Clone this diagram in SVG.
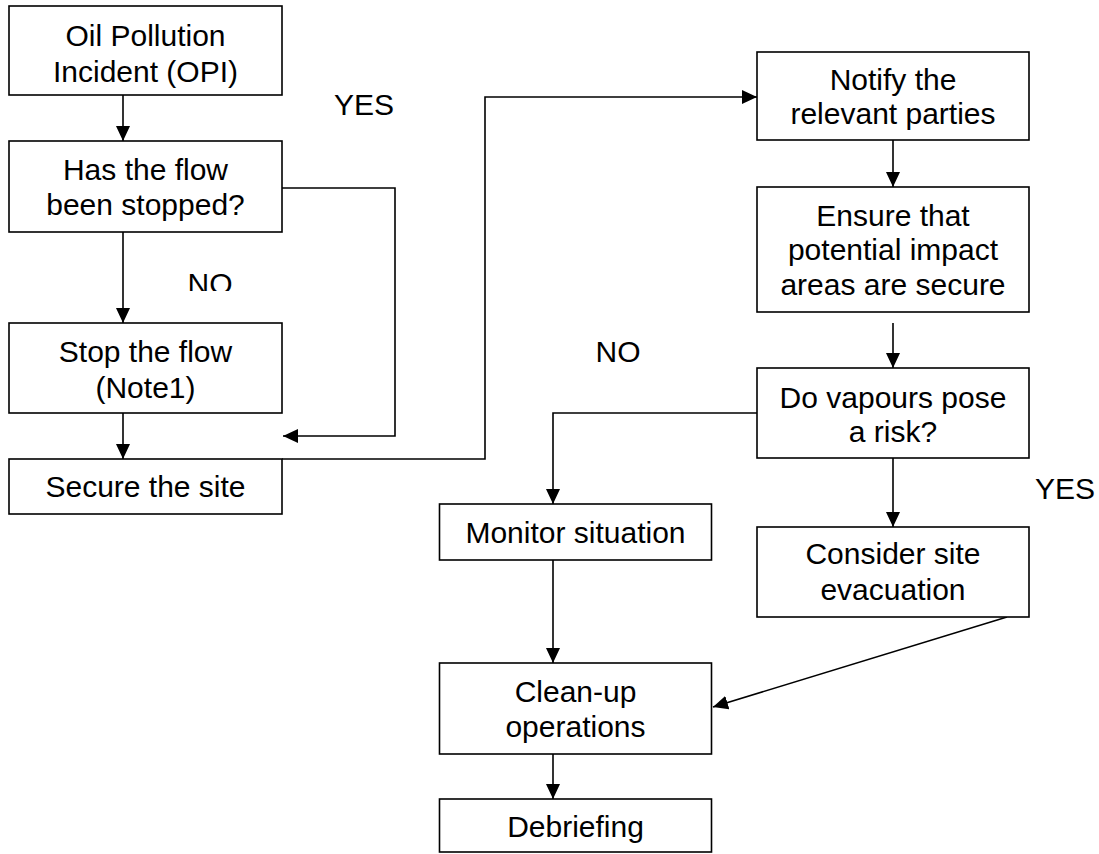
<svg xmlns="http://www.w3.org/2000/svg" width="1099" height="854" viewBox="0 0 1099 854">
<style>
.box{fill:#fff;stroke:#000;stroke-width:1.6}
.t{font-family:"Liberation Sans",Arial,sans-serif;font-size:30px;fill:#000;text-anchor:middle}
.c{fill:none;stroke:#000;stroke-width:1.6}
</style>
<defs>
<marker id="ah" markerUnits="userSpaceOnUse" markerWidth="16" markerHeight="14" refX="15" refY="7" orient="auto">
<path d="M0,0 L15,7 L0,14 z" fill="#000"/>
</marker>
<clipPath id="noclip"><rect x="150" y="260" width="120" height="31"/></clipPath>
</defs>
<rect width="1099" height="854" fill="#fff"/>
<g id="connectors">
<line class="c" x1="123" y1="95" x2="123" y2="141" marker-end="url(#ah)"/>
<line class="c" x1="123" y1="232" x2="123" y2="323" marker-end="url(#ah)"/>
<polyline class="c" points="282,188 395,188 395,436 283,436" marker-end="url(#ah)"/>
<line class="c" x1="123" y1="413" x2="123" y2="459" marker-end="url(#ah)"/>
<polyline class="c" points="282,459 485,459 485,97 757,97" marker-end="url(#ah)"/>
<line class="c" x1="893" y1="140" x2="893" y2="187" marker-end="url(#ah)"/>
<line class="c" x1="893" y1="323" x2="893" y2="368" marker-end="url(#ah)"/>
<polyline class="c" points="757,413 553,413 553,504" marker-end="url(#ah)"/>
<line class="c" x1="893" y1="458" x2="893" y2="527" marker-end="url(#ah)"/>
<line class="c" x1="553" y1="560" x2="553" y2="663" marker-end="url(#ah)"/>
<line class="c" x1="1007" y1="617" x2="713" y2="707" marker-end="url(#ah)"/>
<line class="c" x1="553" y1="754" x2="553" y2="799" marker-end="url(#ah)"/>
</g>
<g id="opi"><rect class="box" x="9" y="6" width="273" height="89"/><text class="t" x="145.5" y="45.5">Oil Pollution</text><text class="t" x="145.5" y="82">Incident (OPI)</text></g>
<g id="flow-stopped"><rect class="box" x="9" y="141" width="273" height="91"/><text class="t" x="145.5" y="180">Has the flow</text><text class="t" x="145.5" y="215">been stopped?</text></g>
<g id="stop-flow"><rect class="box" x="9" y="323" width="273" height="90"/><text class="t" x="145.5" y="362">Stop the flow</text><text class="t" x="145.5" y="398">(Note1)</text></g>
<g id="secure-site"><rect class="box" x="9" y="459" width="273" height="55"/><text class="t" x="145.5" y="497">Secure the site</text></g>
<g id="notify"><rect class="box" x="757" y="52" width="272" height="88"/><text class="t" x="893" y="90">Notify the</text><text class="t" x="893" y="124">relevant parties</text></g>
<g id="ensure"><rect class="box" x="757" y="187" width="272" height="125"/><text class="t" x="893" y="226">Ensure that</text><text class="t" x="893" y="260">potential impact</text><text class="t" x="893" y="295">areas are secure</text></g>
<g id="vapours"><rect class="box" x="757" y="368" width="272" height="90"/><text class="t" x="893" y="408">Do vapours pose</text><text class="t" x="893" y="442">a risk?</text></g>
<g id="monitor"><rect class="box" x="439.5" y="504" width="272" height="56"/><text class="t" x="575.5" y="543">Monitor situation</text></g>
<g id="evacuation"><rect class="box" x="757" y="527" width="272" height="90"/><text class="t" x="893" y="564">Consider site</text><text class="t" x="893" y="600">evacuation</text></g>
<g id="cleanup"><rect class="box" x="439.5" y="663" width="272" height="91"/><text class="t" x="575.5" y="702">Clean-up</text><text class="t" x="575.5" y="737">operations</text></g>
<g id="debriefing"><rect class="box" x="439.5" y="799" width="272" height="53"/><text class="t" x="575.5" y="837">Debriefing</text></g>
<g id="labels">
<text class="t" x="364" y="115">YES</text>
<text class="t" x="210" y="293.5" clip-path="url(#noclip)">NO</text>
<text class="t" x="618" y="362">NO</text>
<text class="t" x="1035" y="499" style="text-anchor:start">YES</text>
</g>
</svg>
